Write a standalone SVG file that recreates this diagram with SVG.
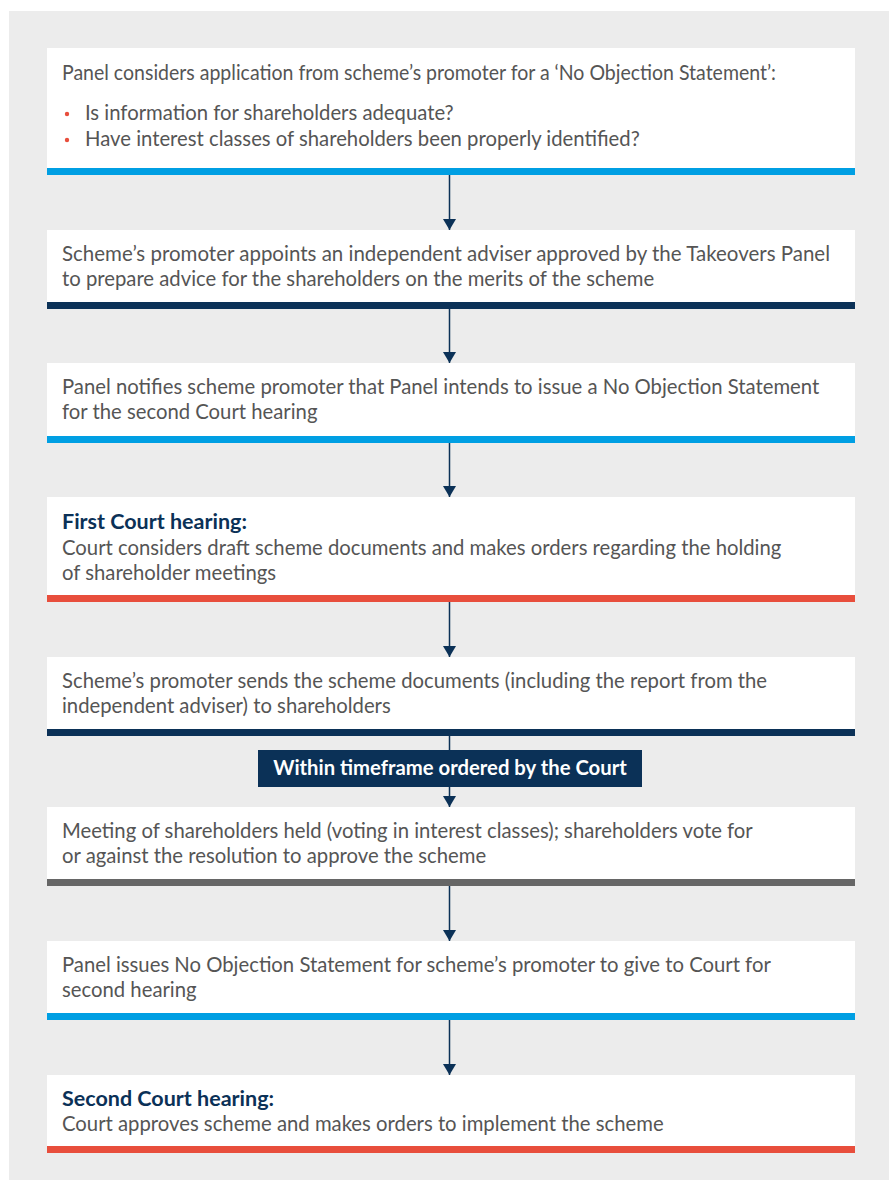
<svg xmlns="http://www.w3.org/2000/svg" width="889" height="1180" viewBox="0 0 889 1180">
<defs>
<style>
.bg{fill:#ececec}
.box{fill:#ffffff}
.t{font-family:Lato,"Liberation Sans",sans-serif;font-size:20.3px;fill:#555555}
.b{font-family:Lato,"Liberation Sans",sans-serif;font-size:21.5px;font-weight:bold;fill:#0b3157}
.lbl{font-family:Lato,"Liberation Sans",sans-serif;font-size:20.3px;font-weight:bold;fill:#ffffff}
.blue{fill:#009fe3}
.navy{fill:#0b3157}
.red{fill:#e84e3c}
.grey{fill:#666666}
.dot{fill:#e84e3c}
.conn{stroke:#0b3157;stroke-width:1.5;fill:none}
</style>
<marker id="ah" viewBox="0 0 11 13" refX="11" refY="6.5" markerWidth="11" markerHeight="13" markerUnits="userSpaceOnUse" orient="auto">
<path d="M0,0 L11,6.5 L0,13 Z" fill="#0b3157"/>
</marker>
</defs>
<rect class="bg" x="9" y="11" width="880" height="1169"/>
<g id="connectors">
<line class="conn" x1="449.5" y1="175" x2="449.5" y2="230" marker-end="url(#ah)"/>
<line class="conn" x1="449.5" y1="309" x2="449.5" y2="363" marker-end="url(#ah)"/>
<line class="conn" x1="449.5" y1="443" x2="449.5" y2="497" marker-end="url(#ah)"/>
<line class="conn" x1="449.5" y1="602" x2="449.5" y2="657" marker-end="url(#ah)"/>
<line class="conn" x1="449.5" y1="736" x2="449.5" y2="750"/>
<line class="conn" x1="449.5" y1="787" x2="449.5" y2="807" marker-end="url(#ah)"/>
<line class="conn" x1="449.5" y1="886" x2="449.5" y2="941" marker-end="url(#ah)"/>
<line class="conn" x1="449.5" y1="1020" x2="449.5" y2="1075" marker-end="url(#ah)"/>
</g>
<g id="node1">
<rect class="box" x="47" y="48" width="808" height="120"/>
<rect class="blue" x="47" y="168" width="808" height="7"/>
<text class="t" x="62" y="80" textLength="714" lengthAdjust="spacingAndGlyphs">Panel considers application from scheme’s promoter for a ‘No Objection Statement’:</text>
<circle class="dot" cx="67" cy="114" r="2.2"/>
<text class="t" x="85" y="120">Is information for shareholders adequate?</text>
<circle class="dot" cx="67" cy="140" r="2.2"/>
<text class="t" x="85" y="146">Have interest classes of shareholders been properly identified?</text>
</g>
<g id="node2">
<rect class="box" x="47" y="230" width="808" height="72"/>
<rect class="navy" x="47" y="302" width="808" height="7"/>
<text class="t" x="62" y="261" textLength="768" lengthAdjust="spacingAndGlyphs">Scheme’s promoter appoints an independent adviser approved by the Takeovers Panel</text>
<text class="t" x="62" y="286">to prepare advice for the shareholders on the merits of the scheme</text>
</g>
<g id="node3">
<rect class="box" x="47" y="363" width="808" height="73"/>
<rect class="blue" x="47" y="436" width="808" height="7"/>
<text class="t" x="62" y="394">Panel notifies scheme promoter that Panel intends to issue a No Objection Statement</text>
<text class="t" x="62" y="419">for the second Court hearing</text>
</g>
<g id="node4">
<rect class="box" x="47" y="497" width="808" height="98"/>
<rect class="red" x="47" y="595" width="808" height="7"/>
<text class="b" x="62" y="529">First Court hearing:</text>
<text class="t" x="62" y="555">Court considers draft scheme documents and makes orders regarding the holding</text>
<text class="t" x="62" y="580">of shareholder meetings</text>
</g>
<g id="node5">
<rect class="box" x="47" y="657" width="808" height="72"/>
<rect class="navy" x="47" y="729" width="808" height="7"/>
<text class="t" x="62" y="688">Scheme’s promoter sends the scheme documents (including the report from the</text>
<text class="t" x="62" y="713">independent adviser) to shareholders</text>
</g>
<g id="label">
<rect class="navy" x="258" y="750" width="384" height="37"/>
<text class="lbl" x="450" y="775" text-anchor="middle">Within timeframe ordered by the Court</text>
</g>
<g id="node6">
<rect class="box" x="47" y="807" width="808" height="72"/>
<rect class="grey" x="47" y="879" width="808" height="7"/>
<text class="t" x="62" y="838">Meeting of shareholders held (voting in interest classes); shareholders vote for</text>
<text class="t" x="62" y="863">or against the resolution to approve the scheme</text>
</g>
<g id="node7">
<rect class="box" x="47" y="941" width="808" height="72"/>
<rect class="blue" x="47" y="1013" width="808" height="7"/>
<text class="t" x="62" y="972">Panel issues No Objection Statement for scheme’s promoter to give to Court for</text>
<text class="t" x="62" y="997">second hearing</text>
</g>
<g id="node8">
<rect class="box" x="47" y="1075" width="808" height="71"/>
<rect class="red" x="47" y="1146" width="808" height="7"/>
<text class="b" x="62" y="1106">Second Court hearing:</text>
<text class="t" x="62" y="1131">Court approves scheme and makes orders to implement the scheme</text>
</g>
</svg>
